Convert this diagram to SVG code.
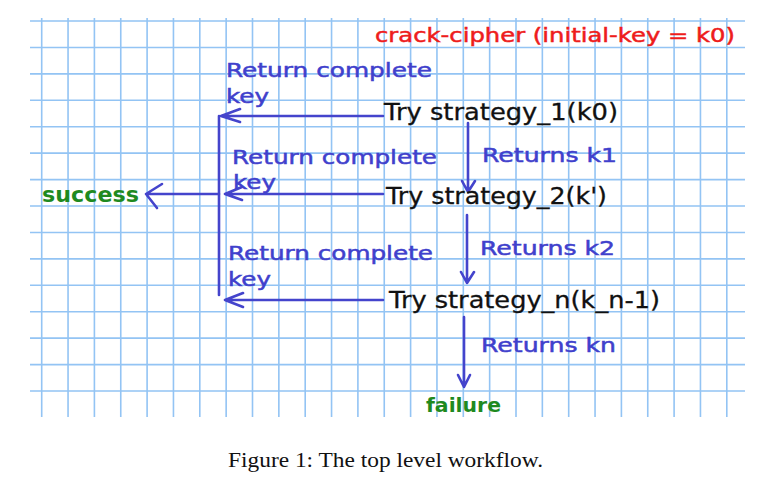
<svg xmlns="http://www.w3.org/2000/svg" width="774" height="482" viewBox="0 0 774 482">
<style>
.grid{stroke:#93c4f4;stroke-width:1.6;fill:none}
.t{font-family:"DejaVu Sans","Verdana",sans-serif}
.blue{fill:#4040cc;stroke:#4040cc;stroke-width:0.5;font-size:20px}
.blk{fill:#111;stroke:#111;stroke-width:0.3;font-size:23px}
.red{fill:#ee1c1c;stroke:#ee1c1c;stroke-width:0.5;font-size:20px}
.green{fill:#1f8a1f;font-weight:bold}
.cap{font-family:"Liberation Serif","Times New Roman",serif;font-size:21px;fill:#111}
.c{stroke:#4444cc;stroke-width:2.6;fill:none;stroke-linecap:round;stroke-linejoin:round}
</style>
<rect width="774" height="482" fill="#fff"/>
<g id="grid" class="grid">
<path d="M41.7,18V417M68.05,18V417M94.4,18V417M120.75,18V417M147.1,18V417M173.45,18V417M199.8,18V417M226.15,18V417M252.5,18V417M278.85,18V417M305.2,18V417M331.55,18V417M357.9,18V417M384.25,18V417M410.6,18V417M436.95,18V417M463.3,18V417M489.65,18V417M516,18V417M542.35,18V417M568.7,18V417M595.05,18V417M621.4,18V417M647.75,18V417M674.1,18V417M700.45,18V417M726.8,18V417"/>
<path d="M30,21H745M30,47.43H745M30,73.86H745M30,100.29H745M30,126.72H745M30,153.15H745M30,179.58H745M30,206.01H745M30,232.44H745M30,258.87H745M30,285.3H745M30,311.73H745M30,338.16H745M30,364.59H745M30,391.02H745"/>
</g>
<g id="connectors" class="c">
<path d="M383,116H221M240,109L221,116L240,122"/>
<path d="M219,116V295"/>
<path d="M383,194H225M242,187L225,194L242,200"/>
<path d="M383,300H225M243,293L225,300L243,307"/>
<path d="M219,194H146M162,184L146,194L157,208"/>
<path d="M468,123V191M462,181L468,192L475,181"/>
<path d="M467,215V283M461,272L467,283L474,272"/>
<path d="M464,317V387M458,375L464,387L470,375"/>
</g>
<g id="title"><text class="t red" x="375" y="42" textLength="360" lengthAdjust="spacingAndGlyphs">crack-cipher (initial-key = k0)</text></g>
<g id="s1"><text class="t blk" x="384" y="120" textLength="234" lengthAdjust="spacingAndGlyphs">Try strategy_1(k0)</text></g>
<g id="s2"><text class="t blk" x="386" y="204" textLength="221" lengthAdjust="spacingAndGlyphs">Try strategy_2(k')</text></g>
<g id="sn"><text class="t blk" x="389" y="308" textLength="271" lengthAdjust="spacingAndGlyphs">Try strategy_n(k_n-1)</text></g>
<g id="success"><text class="t green" x="42" y="202" font-size="22" textLength="97" lengthAdjust="spacingAndGlyphs">success</text></g>
<g id="failure"><text class="t green" x="426" y="412" font-size="20" textLength="75" lengthAdjust="spacingAndGlyphs">failure</text></g>
<g id="labels">
<text class="t blue" x="226" y="77" textLength="206" lengthAdjust="spacingAndGlyphs">Return complete</text>
<text class="t blue" x="226" y="103" textLength="43" lengthAdjust="spacingAndGlyphs">key</text>
<text class="t blue" x="232" y="164" textLength="205" lengthAdjust="spacingAndGlyphs">Return complete</text>
<text class="t blue" x="233" y="189" textLength="43" lengthAdjust="spacingAndGlyphs">key</text>
<text class="t blue" x="228" y="260" textLength="205" lengthAdjust="spacingAndGlyphs">Return complete</text>
<text class="t blue" x="228" y="286" textLength="43" lengthAdjust="spacingAndGlyphs">key</text>
<text class="t blue" x="482" y="162" textLength="135" lengthAdjust="spacingAndGlyphs">Returns k1</text>
<text class="t blue" x="480" y="255" textLength="135" lengthAdjust="spacingAndGlyphs">Returns k2</text>
<text class="t blue" x="481" y="352" textLength="135" lengthAdjust="spacingAndGlyphs">Returns kn</text>
</g>
<g id="caption"><text class="cap" x="228" y="467" textLength="315" lengthAdjust="spacingAndGlyphs">Figure 1: The top level workflow.</text></g>
</svg>
